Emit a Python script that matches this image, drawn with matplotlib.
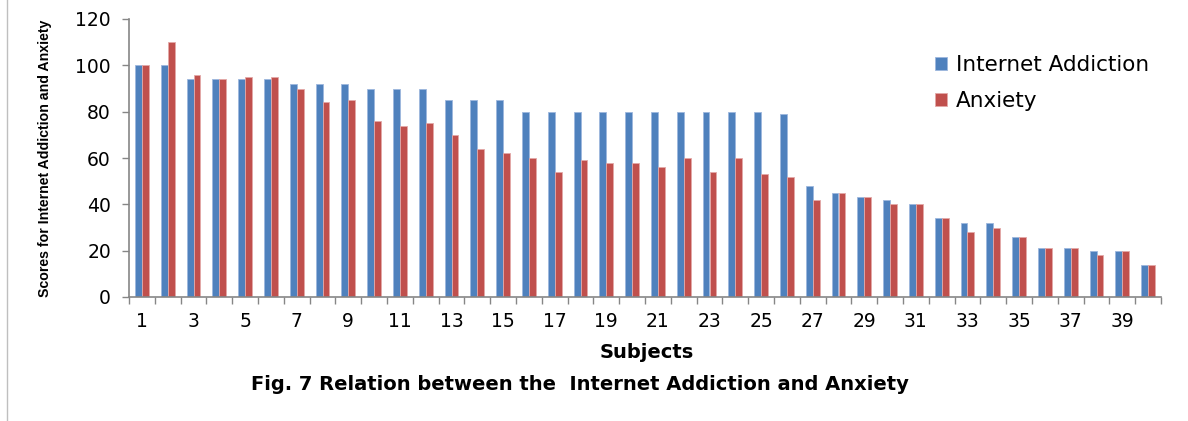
import numpy as np
import matplotlib
matplotlib.use("Agg")
import matplotlib.pyplot as plt
from matplotlib.lines import Line2D

# Scores per subject
subjects = list(range(1, 41))
internet_addiction = [100, 100, 94, 94, 94, 94, 92, 92, 92, 90,
                      90, 90, 85, 85, 85, 80, 80, 80, 80, 80,
                      80, 80, 80, 80, 80, 79, 48, 45, 43, 42,
                      40, 34, 32, 32, 26, 21, 21, 20, 20, 14]
anxiety = [100, 110, 96, 94, 95, 95, 90, 84, 85, 76,
           74, 75, 70, 64, 62, 60, 54, 59, 58, 58,
           56, 60, 54, 60, 53, 52, 42, 45, 43, 40,
           40, 34, 28, 30, 26, 21, 21, 18, 20, 14]
y_ticks = [0, 20, 40, 60, 80, 100, 120]

BLUE = "#4F81BD"
RED = "#C0504D"
GREY = "#868686"

fig = plt.figure(figsize=(11.88, 4.21), dpi=100)
ax = fig.add_axes([129 / 1188, 1 - 297 / 421, (1161 - 129) / 1188, (297 - 19) / 421])

x = np.arange(len(subjects))
w = 0.27
ax.bar(x - w / 2, internet_addiction, width=w, color=BLUE, edgecolor="#9DB7DD", linewidth=0.6,
       label="Internet Addiction")
ax.bar(x + w / 2, anxiety, width=w, color=RED, edgecolor="#E3A9A8", linewidth=0.6, label="Anxiety")

ax.set_xlim(-0.5, len(subjects) - 0.5)
ax.set_ylim(0, 120)
ax.set_yticks(y_ticks)
ax.tick_params(axis="y", length=5, width=1, color=GREY, labelsize=13.5, pad=8)

# labels on every other subject, tick marks between categories
ax.set_xticks(x[::2])
ax.set_xticklabels([str(s) for s in subjects[::2]])
ax.set_xticks(np.arange(-0.5, len(subjects)), minor=True)
ax.tick_params(axis="x", which="major", length=0, labelsize=13.5, pad=11)
ax.tick_params(axis="x", which="minor", length=5, width=1, color=GREY)

for side in ["top", "right"]:
    ax.spines[side].set_visible(False)
for side in ["left", "bottom"]:
    ax.spines[side].set_color(GREY)
    ax.spines[side].set_linewidth(1.2)

fig.text(45 / 1188, 1 - 158 / 421, "Scores for Internet Addiction and Anxiety", rotation=90,
         ha="center", va="center", fontsize=10.2, fontweight="bold", family="Liberation Sans")

fig.text(647 / 1188, 1 - 353 / 421, "Subjects", ha="center", va="center",
         fontsize=14, fontweight="bold")
fig.text(580 / 1188, 1 - 385 / 421, "Fig. 7 Relation between the  Internet Addiction and Anxiety",
         ha="center", va="center", fontsize=14, fontweight="bold")

leg = ax.legend(loc="upper left", bbox_to_anchor=(0.762, 0.94), frameon=False, fontsize=15.5,
                handlelength=0.55, handleheight=0.55, handletextpad=0.45, labelspacing=0.75)

# outer border line on the left, as in the scanned figure
fig.add_artist(Line2D([7 / 1188, 7 / 1188], [0.0, 1.0], color="#BFBFBF", linewidth=1))

fig.savefig("out.png", dpi=100)
